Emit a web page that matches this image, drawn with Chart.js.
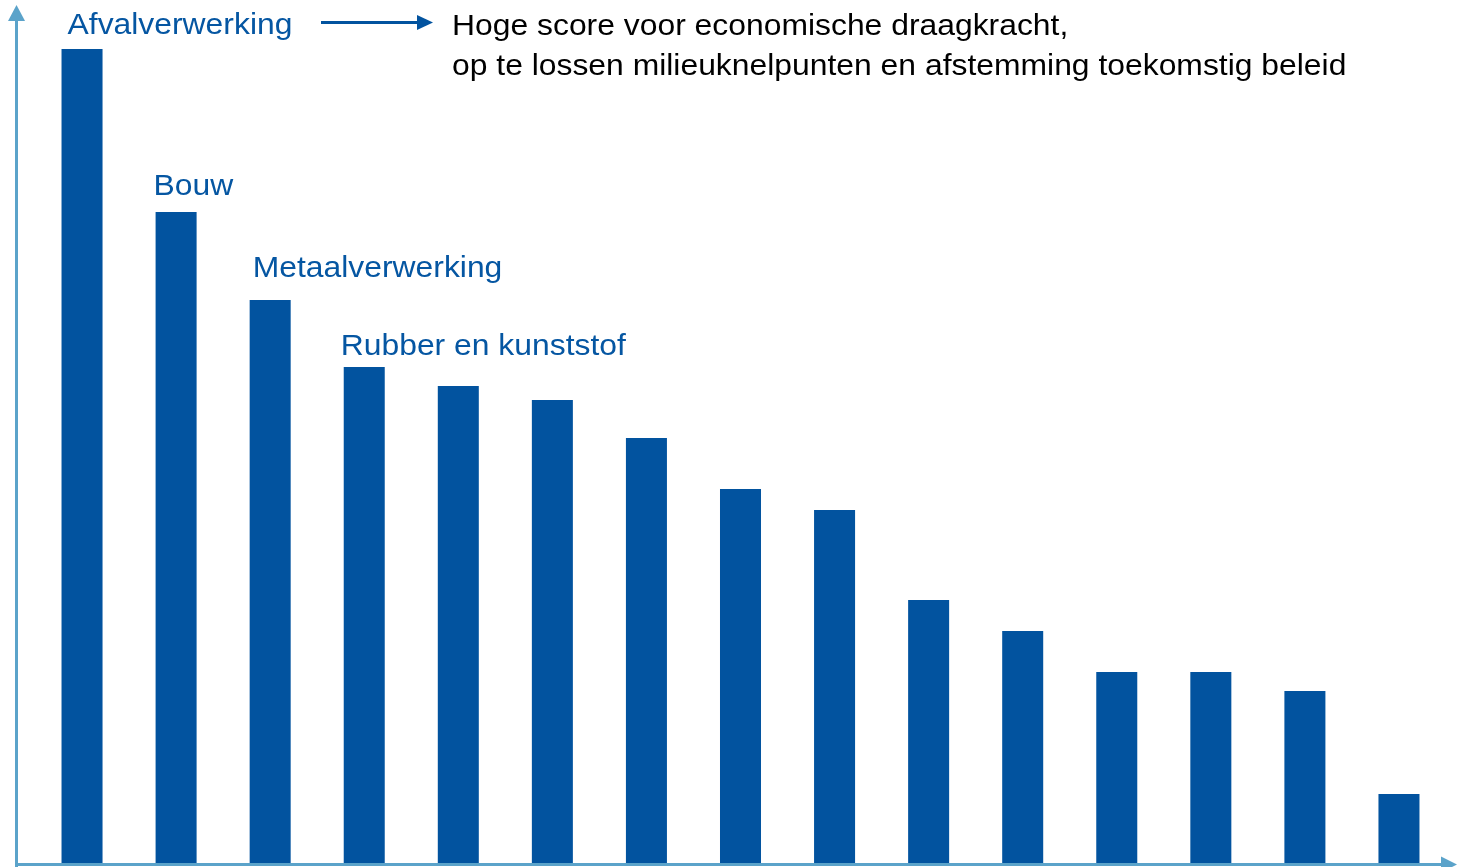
<!DOCTYPE html>
<html>
<head>
<meta charset="utf-8">
<script src="https://cdn.jsdelivr.net/npm/chart.js@4/dist/chart.umd.min.js"></script>
<style>
  body { margin: 0; background: #fff; }
  #wrap { width: 1460px; height: 867px; }
</style>
</head>
<body>
<div id="wrap"><canvas id="myChart" width="1460" height="867"></canvas></div>
<script>
// Sectors ranked by score, only the first four carry a name in the picture
const sectors = ['Afvalverwerking', 'Bouw', 'Metaalverwerking', 'Rubber en kunststof',
    '', '', '', '', '', '', '', '', '', '', ''];
const scores = [81.4, 65.1, 56.3, 49.6, 47.7, 46.3, 42.5, 37.4, 35.3, 26.3, 23.2, 19.1, 19.1, 17.2, 6.9];
const noteLines = ['Hoge score voor economische draagkracht,',
    'op te lossen milieuknelpunten en afstemming toekomstig beleid'];

const barBlue = '#02539f';
const axisBlue = '#5ba3ca';
const font = '30px "Liberation Sans", Arial, sans-serif';
const stretch = 1.062; // text in the original is slightly wider than Arial

// label placement relative to each bar's top-left corner
const labelShift = [[6, 15], [-2, 17], [3, 23], [-3, 12]];

function wideText(c, t, x, y) {
    c.save();
    c.translate(x, y);
    c.scale(stretch, 1);
    c.fillText(t, 0, 0);
    c.restore();
}

const decorations = {
    id: 'decorations',
    afterDatasetsDraw(chart) {
        const c = chart.ctx;
        const bars = chart.getDatasetMeta(0).data;
        c.save();

        // axes with arrowheads
        c.fillStyle = axisBlue;
        c.fillRect(15, 20, 3, 847);
        c.beginPath();
        c.moveTo(16.5, 5); c.lineTo(25, 21); c.lineTo(8, 21); c.closePath(); c.fill();
        c.fillRect(15, 863, 1428, 3);
        c.beginPath();
        c.moveTo(1457, 864.5); c.lineTo(1441, 856.5); c.lineTo(1441, 872.5); c.closePath(); c.fill();

        // sector names above the first bars
        c.font = font;
        c.fillStyle = '#0556a2';
        c.textBaseline = 'alphabetic';
        c.textAlign = 'left';
        sectors.forEach((name, i) => {
            if (!name) return;
            const b = bars[i];
            const s = labelShift[i] || [0, 15];
            wideText(c, name, b.x - b.width / 2 + s[0], b.y - s[1]);
        });

        // arrow to the note
        c.fillStyle = barBlue;
        c.fillRect(321, 21, 98, 3);
        c.beginPath();
        c.moveTo(433, 22.5); c.lineTo(417, 15); c.lineTo(417, 30); c.closePath(); c.fill();

        c.fillStyle = '#000';
        noteLines.forEach((t, i) => wideText(c, t, 452, 35 + i * 40));
        c.restore();
    }
};

const ctx = document.getElementById('myChart').getContext('2d');
const myChart = new Chart(ctx, {
    type: 'bar',
    data: {
        labels: sectors,
        datasets: [{
            data: scores,
            backgroundColor: barBlue,
            barPercentage: 0.436,
            categoryPercentage: 1
        }]
    },
    options: {
        responsive: false,
        animation: false,
        layout: { padding: { left: 35, right: 14, top: 3, bottom: 4 } },
        plugins: { legend: { display: false }, tooltip: { enabled: false } },
        scales: {
            x: { display: false },
            y: { display: false, min: 0, max: 86 }
        }
    },
    plugins: [decorations]
});
</script>
</body>
</html>
